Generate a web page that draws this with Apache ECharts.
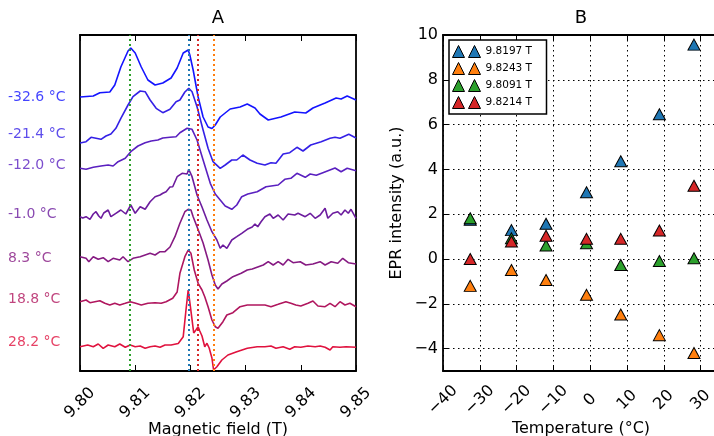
<!DOCTYPE html>
<html>
<head>
<meta charset="utf-8">
<script src="https://cdn.jsdelivr.net/npm/echarts@6/dist/echarts.min.js"></script>
<style>html,body{margin:0;padding:0;background:#fff;}#c{width:714px;height:436px;}</style>
</head>
<body>
<div id="c"></div>
<script>
// ---------- Panel A: EPR spectra, [field (T), signal (a.u.)] ----------
const tempLabels = ['-32.6 °C', '-21.4 °C', '-12.0 °C', '-1.0 °C', '8.3 °C', '18.8 °C', '28.2 °C'];
const offsets = [274, 228, 203, 154, 113, 69, 24.5];
const labelLevels = [274, 237, 206, 157, 113, 72, 29];

const spec_m32_6 = [[9.8000,0],[9.8024,1],[9.8036,4.3],[9.8054,5],[9.8063,12],[9.8074,30],[9.8087,46],[9.8092,49],[9.8100,44],[9.8111,30],[9.8123,17],[9.8136,12],[9.8150,14],[9.8165,19],[9.8176,29],[9.8187,44],[9.8196,47],[9.8199,42],[9.8205,27],[9.8214,0],[9.8223,-20],[9.8232,-30],[9.8239,-31.5],[9.8245,-28],[9.8254,-20],[9.8272,-12],[9.8290,-10],[9.8303,-7],[9.8317,-11],[9.8326,-17],[9.8341,-23],[9.8364,-20],[9.8389,-15],[9.8409,-16],[9.8422,-11],[9.8444,-6],[9.8464,-1],[9.8473,-2],[9.8484,1],[9.8500,-3]];
const spec_m21_4 = [[9.8000,0],[9.8011,1.3],[9.8020,5.7],[9.8029,4.7],[9.8038,3.7],[9.8047,7],[9.8056,9],[9.8065,14.7],[9.8074,24.7],[9.8087,38],[9.8096,46.3],[9.8109,52],[9.8118,51.3],[9.8127,43],[9.8138,34.7],[9.8150,30.3],[9.8163,33.7],[9.8174,41.3],[9.8181,43],[9.8190,51],[9.8197,54.7],[9.8203,51.3],[9.8212,36.3],[9.8223,13],[9.8232,-5.3],[9.8241,-18.7],[9.8254,-25.3],[9.8263,-22],[9.8275,-17],[9.8284,-17],[9.8295,-12],[9.8308,-17],[9.8321,-20.3],[9.8335,-22],[9.8346,-19.7],[9.8355,-20.3],[9.8368,-11],[9.8380,-9.7],[9.8393,-4.3],[9.8404,-8],[9.8418,-2],[9.8437,1.3],[9.8453,4.7],[9.8462,5.7],[9.8471,4.7],[9.8487,8.7],[9.8500,5]];
const spec_m12_0 = [[9.8000,-0.3],[9.8011,-1.3],[9.8024,0.7],[9.8038,2],[9.8051,3],[9.8060,2],[9.8069,6.3],[9.8082,9.7],[9.8092,16.3],[9.8105,22],[9.8118,25.3],[9.8129,27],[9.8141,28],[9.8150,30],[9.8163,30.7],[9.8174,31.3],[9.8181,35.3],[9.8194,39.7],[9.8203,38.7],[9.8212,28],[9.8223,8],[9.8236,-15.3],[9.8245,-26],[9.8254,-32],[9.8263,-38],[9.8275,-41.3],[9.8284,-37],[9.8293,-28.7],[9.8304,-26],[9.8321,-23.7],[9.8337,-18.7],[9.8359,-17],[9.8371,-11.3],[9.8382,-10.3],[9.8393,-5.3],[9.8408,-9.3],[9.8417,-6],[9.8428,-7.3],[9.8440,-4.7],[9.8462,0],[9.8473,-3.7],[9.8484,-0.3],[9.8500,-2.7]];
const spec_m1_0 = [[9.8000,0.3],[9.8005,-1],[9.8011,0.3],[9.8018,-2.3],[9.8024,3],[9.8029,5.3],[9.8034,1],[9.8038,-1.3],[9.8043,4],[9.8051,7],[9.8056,0.3],[9.8065,3.7],[9.8074,7],[9.8083,3],[9.8092,12],[9.8100,3.7],[9.8109,10.3],[9.8118,7.7],[9.8127,15.3],[9.8136,20.3],[9.8145,22],[9.8150,23.7],[9.8156,25.3],[9.8163,30],[9.8168,30.3],[9.8176,40.3],[9.8185,43.7],[9.8194,43],[9.8197,47.7],[9.8203,40.3],[9.8208,30.3],[9.8212,22],[9.8221,10],[9.8230,-3],[9.8239,-14.7],[9.8248,-23],[9.8254,-31.3],[9.8259,-28],[9.8266,-31.3],[9.8275,-23],[9.8284,-19.7],[9.8293,-16.3],[9.8303,-12.3],[9.8312,-10],[9.8317,-7],[9.8322,-9.7],[9.8328,-4.7],[9.8335,0.3],[9.8344,3],[9.8350,-1.3],[9.8359,2],[9.8368,-3],[9.8377,3],[9.8389,2],[9.8395,3.7],[9.8408,0.3],[9.8417,3.7],[9.8426,-1.3],[9.8435,2],[9.8444,8.7],[9.8449,-1.3],[9.8458,3.7],[9.8467,5.3],[9.8473,2],[9.8480,7],[9.8486,3.7],[9.8491,7.7],[9.8500,-1.3]];
const spec_8_3 = [[9.8000,1.3],[9.8011,-0.3],[9.8016,-3.7],[9.8024,1.3],[9.8033,-1.3],[9.8042,0.3],[9.8051,-3.7],[9.8060,-0.3],[9.8072,-2],[9.8078,1.3],[9.8087,-3.7],[9.8096,-0.3],[9.8109,1.3],[9.8118,3],[9.8127,4.7],[9.8136,3],[9.8145,6.3],[9.8154,6.3],[9.8163,11],[9.8172,21.3],[9.8181,34.7],[9.8190,46.3],[9.8196,48.7],[9.8201,48],[9.8205,41.3],[9.8212,31.3],[9.8217,24],[9.8223,15],[9.8232,-2],[9.8239,-17],[9.8245,-27],[9.8250,-31],[9.8257,-26],[9.8266,-23],[9.8277,-18.7],[9.8292,-15.3],[9.8303,-12],[9.8312,-11],[9.8322,-9],[9.8332,-7],[9.8341,-3.7],[9.8350,-7],[9.8359,-3.7],[9.8368,-7],[9.8377,-1.3],[9.8386,-4.7],[9.8399,-3.7],[9.8409,-7],[9.8422,-6],[9.8435,-3.7],[9.8444,-7],[9.8455,-3.7],[9.8467,-5.3],[9.8476,-0.3],[9.8486,-4.7],[9.8500,-6]];
const spec_18_8 = [[9.8000,0.3],[9.8011,2],[9.8018,-0.7],[9.8027,0.3],[9.8036,1.3],[9.8045,-1.3],[9.8054,-3],[9.8063,-1.3],[9.8072,-3],[9.8082,-1.3],[9.8091,0.3],[9.8101,-1.3],[9.8111,-3],[9.8123,-1.3],[9.8136,-0.7],[9.8147,-1.3],[9.8156,0.3],[9.8168,3.7],[9.8176,10],[9.8181,28.7],[9.8190,45.3],[9.8196,52],[9.8201,48.7],[9.8207,32],[9.8214,18.7],[9.8221,12],[9.8226,5.3],[9.8232,-4.7],[9.8239,-18],[9.8245,-24.7],[9.8250,-26.3],[9.8259,-19.7],[9.8266,-13],[9.8277,-10.7],[9.8290,-4.7],[9.8303,-3],[9.8313,-3],[9.8322,-3],[9.8335,-3],[9.8346,-4.7],[9.8359,-2.3],[9.8373,0.3],[9.8382,-1.3],[9.8391,-3],[9.8400,-4],[9.8413,-1.3],[9.8422,1],[9.8431,-4],[9.8444,-4.7],[9.8453,-1.3],[9.8462,-4.7],[9.8471,0.3],[9.8480,-3],[9.8489,-1.3],[9.8500,-4.7]];
const spec_28_2 = [[9.8000,-0.2],[9.8014,1.5],[9.8024,-0.2],[9.8033,2.5],[9.8042,-1.8],[9.8051,1.5],[9.8063,-0.2],[9.8072,2.5],[9.8082,-0.8],[9.8091,1.5],[9.8100,-0.2],[9.8109,0.5],[9.8118,-1.8],[9.8127,-0.2],[9.8136,0.5],[9.8145,-0.8],[9.8154,1.5],[9.8165,1.5],[9.8178,3],[9.8187,9.8],[9.8192,36.5],[9.8196,56.5],[9.8200,39.8],[9.8206,13.5],[9.8210,16.5],[9.8214,19.8],[9.8217,15.5],[9.8221,10.5],[9.8226,-0.2],[9.8230,3.2],[9.8234,-1.5],[9.8239,-11.5],[9.8242,-23.5],[9.8248,-20.2],[9.8257,-13.5],[9.8268,-8.5],[9.8284,-5.2],[9.8303,-1.8],[9.8321,-0.2],[9.8335,-0.2],[9.8346,0.5],[9.8355,-1.8],[9.8368,-0.2],[9.8380,-2.8],[9.8389,-0.2],[9.8400,-0.8],[9.8413,0.5],[9.8426,-0.2],[9.8435,0.5],[9.8444,-0.8],[9.8453,-3.5],[9.8458,-0.2],[9.8471,-0.8],[9.8482,-0.2],[9.8500,-0.8]];
const spectra = [spec_m32_6, spec_m21_4, spec_m12_0, spec_m1_0, spec_8_3, spec_18_8, spec_28_2];

// marker fields (vertical dotted lines in A, legend of B)
const markerFields = [9.8197, 9.8243, 9.8091, 9.8214];

// ---------- Panel B: intensities vs temperature ----------
const temperatures = [-32.6, -21.4, -12.0, -1.0, 8.3, 18.8, 28.2];
const int_9_8197 = [1.75, 1.29, 1.57, 2.98, 4.36, 6.46, 9.57];
const int_9_8243 = [-1.2, -0.49, -0.94, -1.6, -2.48, -3.4, -4.2];
const int_9_8091 = [1.82, 0.92, 0.6, 0.7, -0.27, -0.09, 0.03];
const int_9_8214 = [0.0, 0.78, 1.04, 0.9, 0.9, 1.27, 3.27];
const intensities = [int_9_8197, int_9_8243, int_9_8091, int_9_8214];

const xTicksA = [9.80, 9.81, 9.82, 9.83, 9.84, 9.85];
const xTicksB = [-40, -30, -20, -10, 0, 10, 20, 30];
const yTicksB = [-4, -2, 0, 2, 4, 6, 8, 10];

// ---------- styles ----------
const FONT = 'DejaVu Sans';
const curveColors = ['#1414ff', '#3420e6', '#5a20c0', '#6c1c9e', '#861a82', '#b0165e', '#e0123e'];
const markerColors = ['#1f77b4', '#ff7f0e', '#2ca02c', '#d62728'];
const axisLine = {show: true, onZero: false, lineStyle: {color: '#000', width: 1.8}};
const tickIn = {show: true, inside: true, length: 6, lineStyle: {color: '#000', width: 1}};
const dotted = {show: true, lineStyle: {color: '#000', width: 1, type: [1.5, 3.5]}};
const minus = v => (v < 0 ? '\u2212' + Math.abs(v) : String(v));

const chart = echarts.init(document.getElementById('c'), null, {renderer: 'canvas'});

const series = [];
spectra.forEach((sp, i) => {
  const s = {
    type: 'line', xAxisIndex: 0, yAxisIndex: 0, name: tempLabels[i],
    data: sp.map(p => [p[0], offsets[i] + p[1]]),
    showSymbol: false, symbol: 'none', silent: true,
    lineStyle: {color: curveColors[i], width: 1.6}, z: 3
  };
  if (i === 0) {
    s.markLine = {
      silent: true, symbol: 'none', label: {show: false}, precision: 6,
      data: markerFields.map((f, k) => ({xAxis: f, lineStyle: {color: markerColors[k], width: 2, type: [2, 3]}}))
    };
  }
  series.push(s);
});
series.push({
  type: 'scatter', xAxisIndex: 0, yAxisIndex: 0, symbolSize: 0, silent: true, clip: false,
  data: tempLabels.map((t, i) => ({value: [xTicksA[0], labelLevels[i]], name: t,
    label: {color: curveColors[i]}})),
  label: {show: true, position: 'left', distance: 72, align: 'left', formatter: p => p.name,
    fontFamily: FONT, fontSize: 14}
});
const legendNames = markerFields.map(f => f.toFixed(4) + ' T');
intensities.forEach((arr, k) => {
  series.push({
    type: 'scatter', name: legendNames[k], xAxisIndex: 2, yAxisIndex: 2,
    symbol: 'triangle', symbolSize: [12, 11],
    itemStyle: {color: markerColors[k], borderColor: '#000', borderWidth: 1, opacity: 1},
    data: temperatures.map((t, j) => [t, arr[j]]), z: 5
  });
});

const option = {
  animation: false,
  backgroundColor: '#fff',
  textStyle: {fontFamily: FONT},
  title: [
    {text: 'A', left: 218, top: 9, textAlign: 'center', padding: 0,
     textStyle: {fontFamily: FONT, fontSize: 18, fontWeight: 'normal', color: '#000'}},
    {text: 'B', left: 581, top: 9, textAlign: 'center', padding: 0,
     textStyle: {fontFamily: FONT, fontSize: 18, fontWeight: 'normal', color: '#000'}}
  ],
  grid: [
    {left: 80, top: 35, width: 276, height: 336, outerBoundsMode: 'none', containLabel: false},
    {left: 443, top: 35, width: 276, height: 336, outerBoundsMode: 'none', containLabel: false}
  ],
  legend: [
    {data: legendNames, left: 449, top: 40, orient: 'vertical', icon: 'triangle',
     itemWidth: 12, itemHeight: 12, itemGap: 4, selectedMode: false,
     formatter: () => '', padding: [5, 77, 5, 3],
     borderColor: '#000', borderWidth: 1.5, backgroundColor: '#fff',
     itemStyle: {borderColor: '#000', borderWidth: 1},
     textStyle: {fontFamily: FONT, fontSize: 10.5, lineHeight: 12}},
    {data: legendNames, left: 468, top: 40, orient: 'vertical', icon: 'triangle',
     itemWidth: 12, itemHeight: 12, itemGap: 4, selectedMode: false,
     padding: [5, 0, 5, 0],
     itemStyle: {borderColor: '#000', borderWidth: 1},
     textStyle: {fontFamily: FONT, fontSize: 10.5, lineHeight: 12, color: '#000'}}
  ],
  xAxis: [
    {type: 'value', gridIndex: 0, position: 'bottom', min: xTicksA[0], max: xTicksA[xTicksA.length - 1], interval: 0.01,
     axisLine, axisTick: tickIn, splitLine: {show: false},
     axisLabel: {rotate: 45, align: 'center', verticalAlign: 'middle', margin: 32, color: '#000',
       fontFamily: FONT, fontSize: 16, formatter: v => v.toFixed(2)},
     name: 'Magnetic field (T)', nameLocation: 'middle', nameGap: 51, nameMoveOverlap: false,
     nameTextStyle: {fontFamily: FONT, fontSize: 16, color: '#000'}},
    {type: 'value', gridIndex: 0, position: 'top', min: xTicksA[0], max: xTicksA[xTicksA.length - 1], interval: 0.01,
     axisLine, axisTick: tickIn, axisLabel: {show: false}, splitLine: {show: false}},
    {type: 'value', gridIndex: 1, position: 'bottom', min: xTicksB[0], max: 35, interval: 10,
     axisLine, axisTick: tickIn, splitLine: dotted,
     axisLabel: {rotate: 45, align: 'center', verticalAlign: 'middle', margin: 29, color: '#000',
       fontFamily: FONT, fontSize: 16, formatter: minus, showMaxLabel: false},
     name: 'Temperature (°C)', nameLocation: 'middle', nameGap: 50, nameMoveOverlap: false,
     nameTextStyle: {fontFamily: FONT, fontSize: 16, color: '#000'}},
    {type: 'value', gridIndex: 1, position: 'top', min: xTicksB[0], max: 35, interval: 10,
     axisLine, axisTick: tickIn, axisLabel: {show: false}, splitLine: {show: false}}
  ],
  yAxis: [
    {type: 'value', gridIndex: 0, position: 'left', min: 0, max: 336,
     axisLine, axisTick: {show: false}, axisLabel: {show: false}, splitLine: {show: false}},
    {type: 'value', gridIndex: 0, position: 'right', min: 0, max: 336,
     axisLine, axisTick: {show: false}, axisLabel: {show: false}, splitLine: {show: false}},
    {type: 'value', gridIndex: 1, position: 'left', min: -5, max: yTicksB[yTicksB.length - 1], splitNumber: 7,
     axisLine, axisTick: tickIn, splitLine: dotted,
     axisLabel: {margin: 5, color: '#000', fontFamily: FONT, fontSize: 16, formatter: minus, showMinLabel: false},
     name: 'EPR intensity (a.u.)', nameLocation: 'middle', nameGap: 38, nameRotate: 90, nameMoveOverlap: false,
     nameTextStyle: {fontFamily: FONT, fontSize: 16, color: '#000'}}
  ],
  series
};
chart.setOption(option);
</script>
</body>
</html>
